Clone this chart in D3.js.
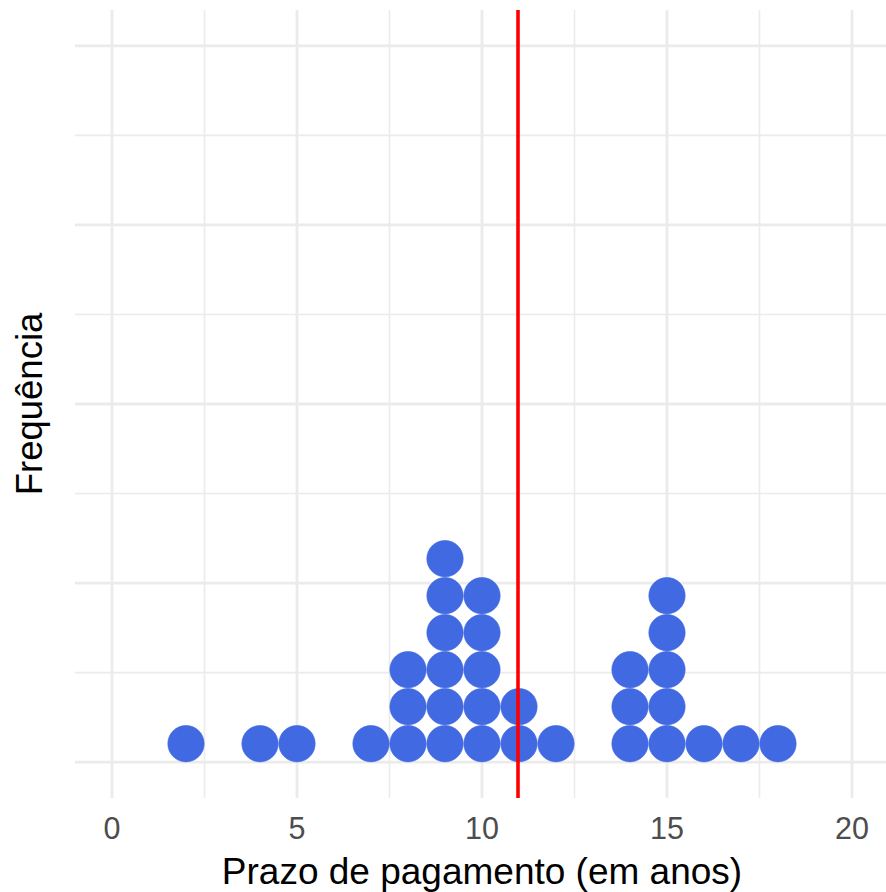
<!DOCTYPE html>
<html>
<head>
<meta charset="utf-8">
<script src="https://cdn.jsdelivr.net/npm/d3@7"></script>
<style>
  html, body { margin: 0; padding: 0; background: #ffffff; }
  svg { display: block; }
</style>
</head>
<body>
<div id="chart"></div>
<script>
// ---- data ----
const values = [2, 4, 5, 7, 8, 9, 10, 11, 12, 14, 15, 16, 17, 18];
const counts = [1, 1, 1, 1, 3, 6, 5, 2, 1, 3, 5, 1, 1, 1];
const xTicks = [0, 5, 10, 15, 20];
const xMinor = [2.5, 7.5, 12.5, 17.5];
const yMajor = [0, 0.25, 0.5, 0.75, 1];
const yMinor = [0.125, 0.375, 0.625, 0.875];
const refLine = 11;
const xLabel = "Prazo de pagamento (em anos)";
const yLabel = "Frequência";

// ---- layout ----
const W = 886, H = 892;
const panel = { left: 75, right: 889, top: 10, bottom: 798 };
const font = "'Liberation Sans', Arial, Helvetica, sans-serif";

const svg = d3.select("#chart").append("svg")
  .attr("width", W).attr("height", H)
  .attr("viewBox", `0 0 ${W} ${H}`);

const x = d3.scaleLinear().domain([-1, 21]).range([panel.left, panel.right]);
const y = d3.scaleLinear().domain([-0.05, 1.05]).range([panel.bottom, panel.top]);

const grid = svg.append("g");
const gridCol = "#EBEBEB";

// minor grid
grid.selectAll("line.xminor").data(xMinor).join("line")
  .attr("x1", d => x(d)).attr("x2", d => x(d))
  .attr("y1", panel.top).attr("y2", panel.bottom)
  .attr("stroke", gridCol).attr("stroke-width", 1.6);
grid.selectAll("line.yminor").data(yMinor).join("line")
  .attr("y1", d => y(d)).attr("y2", d => y(d))
  .attr("x1", panel.left).attr("x2", panel.right)
  .attr("stroke", gridCol).attr("stroke-width", 1.6);
// major grid
grid.selectAll("line.xmajor").data(xTicks).join("line")
  .attr("x1", d => x(d)).attr("x2", d => x(d))
  .attr("y1", panel.top).attr("y2", panel.bottom)
  .attr("stroke", gridCol).attr("stroke-width", 2.8);
grid.selectAll("line.ymajor").data(yMajor).join("line")
  .attr("y1", d => y(d)).attr("y2", d => y(d))
  .attr("x1", panel.left).attr("x2", panel.right)
  .attr("stroke", gridCol).attr("stroke-width", 2.8);

// ---- dots (binwidth = 1, stacked) ----
const binwidth = 1;
const diam = x(binwidth) - x(0);
const dots = [];
values.forEach((v, i) => {
  for (let k = 0; k < counts[i]; k++) dots.push({ v, k });
});
svg.append("g").selectAll("circle").data(dots).join("circle")
  .attr("cx", d => x(d.v))
  .attr("cy", d => y(0) - (d.k + 0.5) * diam)
  .attr("r", diam / 2 - 0.3)
  .attr("fill", "#4169E1")
  .attr("stroke", "#4169E1")
  .attr("stroke-width", 0.6);

// ---- reference line ----
svg.append("line")
  .attr("x1", x(refLine) - 1).attr("x2", x(refLine) - 1)
  .attr("y1", panel.top).attr("y2", panel.bottom)
  .attr("stroke", "#FF0000").attr("stroke-width", 3.6);

// ---- x axis labels ----
svg.append("g").selectAll("text").data(xTicks).join("text")
  .attr("x", d => x(d)).attr("y", 839)
  .attr("text-anchor", "middle")
  .attr("font-family", font).attr("font-size", 30.5)
  .attr("fill", "#4D4D4D")
  .text(d => d);

svg.append("text")
  .attr("x", (panel.left + panel.right) / 2).attr("y", 884)
  .attr("text-anchor", "middle")
  .attr("font-family", font).attr("font-size", 37)
  .attr("fill", "#000000")
  .text(xLabel);

svg.append("text")
  .attr("transform", `translate(42, ${(panel.top + panel.bottom) / 2}) rotate(-90)`)
  .attr("text-anchor", "middle")
  .attr("font-family", font).attr("font-size", 36.5)
  .attr("fill", "#000000")
  .text(yLabel);
</script>
</body>
</html>
